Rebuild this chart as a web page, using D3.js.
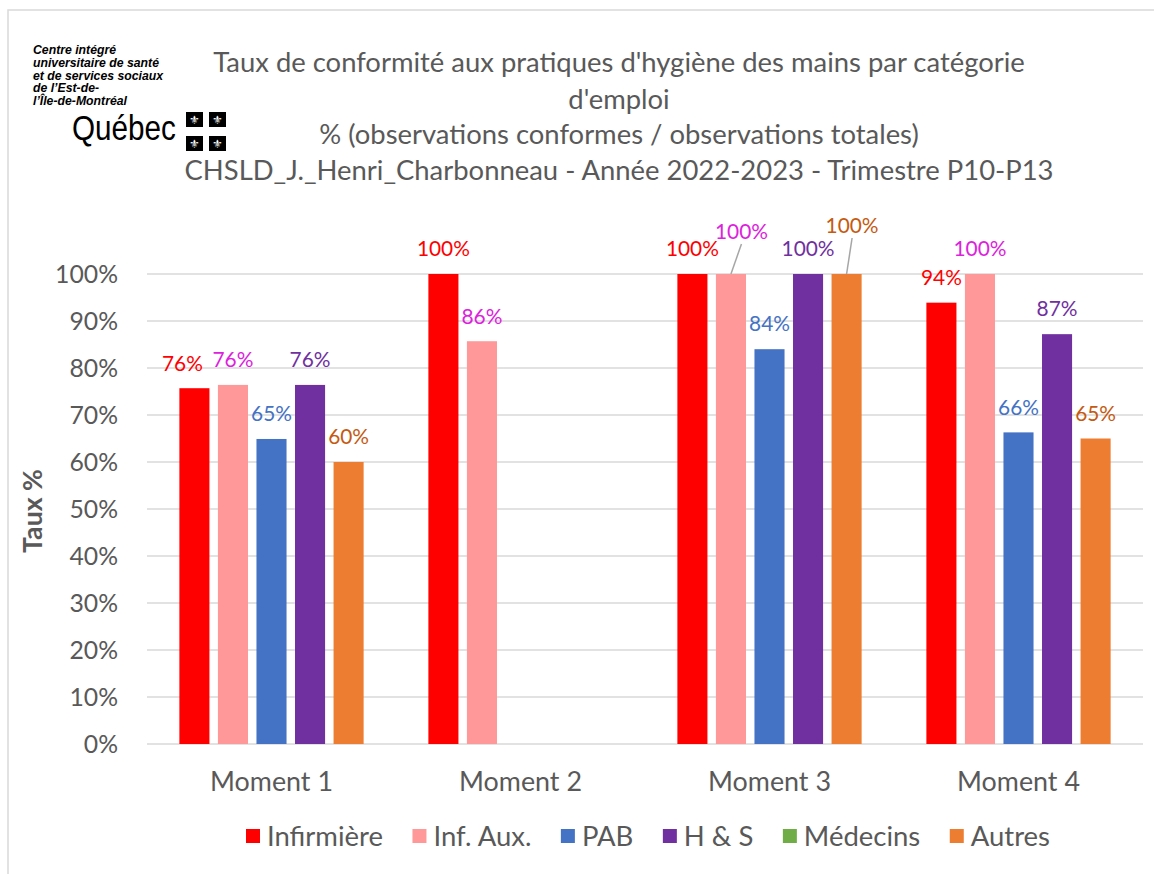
<!DOCTYPE html>
<html><head><meta charset="utf-8">
<script src="https://cdn.jsdelivr.net/npm/d3@7"></script>
<style>html,body{margin:0;padding:0;background:#fff}svg{display:block}</style>
</head><body>
<svg id="c" width="1154" height="874"></svg>
<script>
// ---------- data ----------
const moments = ["Moment 1", "Moment 2", "Moment 3", "Moment 4"];
const seriesNames = ["Infirmière", "Inf. Aux.", "PAB", "H & S", "Médecins", "Autres"];
const infirmiere = [0.757, 1.00, 1.00, 0.939];
const infAux     = [0.764, 0.857, 1.00, 1.00];
const pab        = [0.649, null, 0.840, 0.663];
const hs         = [0.764, null, 1.00, 0.872];
const medecins   = [null, null, null, null];
const autres     = [0.600, null, 1.00, 0.650];
const yTicks = [0, 0.1, 0.2, 0.3, 0.4, 0.5, 0.6, 0.7, 0.8, 0.9, 1.0];
const titleLines = [
  "Taux de conformité aux pratiques d'hygiène des mains par catégorie",
  "d'emploi",
  "% (observations conformes / observations totales)",
  "CHSLD_J._Henri_Charbonneau - Année 2022-2023 - Trimestre P10-P13"
];
const yAxisTitle = "Taux %";
const logoLines = ["Centre intégré", "universitaire de santé", "et de services sociaux", "de l’Est-de-", "l’Île-de-Montréal"];
const logoWord = "Québec";

// ---------- styles ----------
const barColors   = ["#FF0000", "#FF9999", "#4472C4", "#7030A0", "#70AD47", "#ED7D31"];
const labelColors = ["#FF0000", "#DD22DD", "#4472C4", "#7030A0", "#70AD47", "#C55A11"];
const seriesValues = [infirmiere, infAux, pab, hs, medecins, autres];
const series = seriesNames.map((n, i) => ({name: n, values: seriesValues[i], color: barColors[i], labelColor: labelColors[i]}));
const barSeries = series.filter(s => s.values.some(v => v != null));
// label nudges (Excel moved labels)
const labelNudge = {
  "Moment 1|Infirmière": {dx: -12, dy: 0},
  "Moment 3|Inf. Aux.": {dx: 10.5, dy: -17, leader: true},
  "Moment 3|Autres": {dx: 5.5, dy: -23, leader: true}
};

const FONT = "Lato, 'Open Sans', sans-serif";
const LOGOFONT = "'Liberation Sans Narrow', 'Liberation Sans', Arial, sans-serif";
const GREY = "#595959";
const svg = d3.select("#c");

function sizeFor(text, target, o = {}) {
  const t = svg.append("text").attr("font-family", o.family || FONT).attr("font-size", 100)
    .attr("font-weight", o.weight || "normal").attr("font-style", o.style || "normal").text(text);
  const w = t.node().getComputedTextLength(); t.remove();
  return 100 * target / w;
}

// border
svg.append("path").attr("d", "M8,874V10H1154").attr("fill", "none").attr("stroke", "#d9d9d9").attr("stroke-width", 1.5);

// ---------- scales ----------
const x0 = d3.scaleBand().domain(moments).range([147, 1143]);
const x1 = d3.scaleBand().domain(barSeries.map(s => s.name)).range([0, x0.bandwidth()])
  .paddingInner(0.22).paddingOuter(0.84);
const y = d3.scaleLinear().domain([0, 1]).range([744, 274]);

// gridlines
svg.append("g").selectAll("line").data(yTicks).join("line")
  .attr("x1", 147).attr("x2", 1143).attr("y1", d => y(d)).attr("y2", d => y(d))
  .attr("stroke", "#d9d9d9").attr("stroke-width", 1.5);

// y axis labels
const tickFs = sizeFor("100%", 63);
const yAxis = d3.axisLeft(y).tickValues(yTicks).tickFormat(d3.format(".0%")).tickSize(0).tickPadding(0);
const gy = svg.append("g").attr("transform", "translate(118,0)").call(yAxis);
gy.select(".domain").remove();
gy.selectAll("text").attr("font-family", FONT).attr("font-size", tickFs).attr("fill", GREY).attr("dy", "0.35em");

// x axis labels
const xFs = sizeFor("Moment 1", 123);
const xAxis = d3.axisBottom(x0).tickSize(0).tickPadding(0);
const gx = svg.append("g").attr("transform", "translate(0,782)").call(xAxis);
gx.select(".domain").remove();
gx.selectAll("text").attr("font-family", FONT).attr("font-size", xFs).attr("fill", GREY).attr("dy", "0.35em");

// y title
const yTitleFs = sizeFor(yAxisTitle, 84, {weight: "bold"});
svg.append("text").attr("transform", `translate(${32 + yTitleFs * 0.36},511) rotate(-90)`)
  .attr("text-anchor", "middle").attr("font-family", FONT).attr("font-weight", "bold")
  .attr("font-size", yTitleFs).attr("fill", GREY).text(yAxisTitle);

// bars
const labelFs = sizeFor("100%", 53);
const gBars = svg.append("g");
const gLabels = svg.append("g");
moments.forEach((m, mi) => {
  barSeries.forEach(s => {
    const v = s.values[mi];
    if (v == null) return;
    const bx = x0(m) + x1(s.name);
    gBars.append("rect").attr("x", bx).attr("y", y(v)).attr("width", x1.bandwidth())
      .attr("height", y(0) - y(v)).attr("fill", s.color);
    const nd = labelNudge[m + "|" + s.name] || {dx: 0, dy: 0};
    const cx = bx + x1.bandwidth() / 2;
    const lx = cx + nd.dx, ly = y(v) - 25 + nd.dy;
    if (nd.leader) {
      gLabels.append("line").attr("x1", lx).attr("y1", ly + 12).attr("x2", cx).attr("y2", y(v))
        .attr("stroke", "#a6a6a6").attr("stroke-width", 1.5);
    }
    gLabels.append("text").attr("x", lx).attr("y", ly).attr("dy", "0.35em").attr("text-anchor", "middle")
      .attr("font-family", FONT).attr("font-size", labelFs).attr("fill", s.labelColor)
      .text(Math.round(v * 100) + "%");
  });
});

// title
const titleFs = sizeFor(titleLines[0], 812);
const titleY = [62, 99, 134, 170];
svg.append("g").selectAll("text").data(titleLines).join("text")
  .attr("x", 619).attr("y", (d, i) => titleY[i]).attr("dy", "0.35em").attr("text-anchor", "middle")
  .attr("font-family", FONT).attr("font-size", titleFs).attr("fill", GREY).text(d => d);

// legend
const legFs = sizeFor("Infirmière", 116);
const gLeg = svg.append("g");
let lx = 246;
series.forEach(s => {
  gLeg.append("rect").attr("x", lx).attr("y", 829).attr("width", 14).attr("height", 14).attr("fill", s.color);
  const t = gLeg.append("text").attr("x", lx + 21).attr("y", 836).attr("dy", "0.35em")
    .attr("font-family", FONT).attr("font-size", legFs).attr("fill", GREY).text(s.name);
  lx += 21 + t.node().getComputedTextLength() + 29.5;
});

// logo
const logoFs = sizeFor(logoLines[1], 126, {family: LOGOFONT, weight: "bold", style: "italic"});
svg.append("g").selectAll("text").data(logoLines).join("text")
  .attr("x", 33).attr("y", (d, i) => 54 + i * 12.8)
  .attr("font-family", LOGOFONT).attr("font-weight", "bold").attr("font-style", "italic")
  .attr("font-size", logoFs).attr("fill", "#000").text(d => d);
const quebecFs = sizeFor(logoWord, 104, {family: "'Liberation Sans', Arial, sans-serif"});
svg.append("text").attr("transform", "translate(72,140) scale(1,1.15)")
  .attr("font-family", "'Liberation Sans', Arial, sans-serif")
  .attr("font-size", quebecFs).attr("fill", "#000").text(logoWord);
const flags = [[186, 112], [209, 112], [186, 136], [209, 136]];
const gF = svg.append("g");
flags.forEach(([fx, fy]) => {
  gF.append("rect").attr("x", fx).attr("y", fy).attr("width", 17).attr("height", 15).attr("fill", "#000");
  gF.append("text").attr("x", fx + 8.5).attr("y", fy + 7.5).attr("dy", "0.38em").attr("text-anchor", "middle")
    .attr("font-family", "'DejaVu Sans'").attr("font-size", 12).attr("fill", "#fff").text("⚜");
});
</script>
</body></html>
